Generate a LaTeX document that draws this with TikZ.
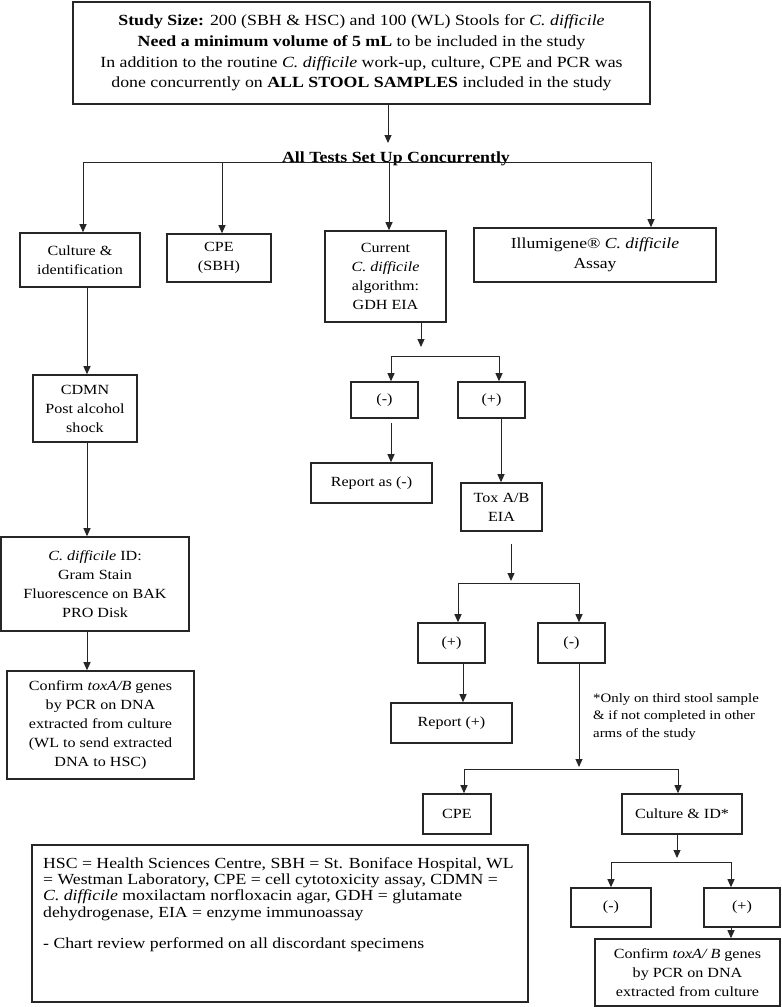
\documentclass[tikz,border=0pt]{standalone}
\usepackage{fontspec}
\setmainfont{Liberation Serif}[FakeStretch=1.15]
\usetikzlibrary{arrows.meta}
\begin{document}
\begin{tikzpicture}[x=1pt,y=-1pt,
  box/.style={draw=black!85, line width=1.6pt, inner sep=0pt, align=center, font=\fontsize{14}{19}\selectfont},
  conn/.style={draw=black!85, line width=1pt},
  arr/.style={conn, -{Triangle[length=8pt,width=7pt]}},
  notetext/.style={anchor=north west, inner sep=0pt, align=left, font=\fontsize{12.9}{17.5}\selectfont},
  legendtext/.style={anchor=north west, inner sep=0pt, align=left, font=\fontsize{15.4}{16.2}\selectfont},
]
\useasboundingbox (0,0) rectangle (782,1007);

% ---------- nodes ----------
\node[box, font=\fontsize{15.5}{20.7}\selectfont, minimum width=577pt, minimum height=102pt] (top) at (361.5,53)
  {\textbf{Study Size:} 200 (SBH \& HSC) and 100 (WL) Stools for \textit{C. difficile}\\
   \textbf{Need a minimum volume of 5 mL} to be included in the study\\
   In addition to the routine \textit{C. difficile} work-up, culture, CPE and PCR was\\
   done concurrently on \textbf{ALL STOOL SAMPLES} included in the study};
\node[font=\fontsize{15.5}{18}\selectfont\bfseries, inner sep=0pt, anchor=base] (tests) at (396,162) {All Tests Set Up Concurrently};

\node[box, minimum width=120pt, minimum height=54pt] (culture) at (80,260) {Culture \&\\identification};
\node[box, minimum width=104pt, minimum height=48pt] (cpesbh) at (219,258) {CPE\\(SBH)};
\node[box, minimum width=121pt, minimum height=91pt] (current) at (385.5,276.5) {Current\\\textit{C. difficile}\\algorithm:\\GDH EIA};
\node[box, font=\fontsize{15.3}{20}\selectfont, minimum width=242pt, minimum height=54pt] (illum) at (595,255) {Illumigene® \textit{C. difficile}\\Assay};

\node[box, minimum width=104pt, minimum height=67pt] (cdmn) at (85,408.5) {CDMN\\Post alcohol\\shock};
\node[box, minimum width=188pt, minimum height=94pt] (cdid) at (95,584) {\textit{C. difficile} ID:\\Gram Stain\\Fluorescence on BAK\\PRO Disk};
\node[box, minimum width=187pt, minimum height=108pt] (confl) at (100.5,725) {Confirm \textit{toxA/B} genes\\by PCR on DNA\\extracted from culture\\(WL to send extracted\\DNA to HSC)};

\node[box, minimum width=67pt, minimum height=36pt] (gneg) at (384.5,400) {(-)};
\node[box, minimum width=67pt, minimum height=36pt] (gpos) at (491.5,400) {(+)};
\node[box, minimum width=121pt, minimum height=40pt] (repneg) at (371.5,483) {Report as (-)};
\node[box, minimum width=81pt, minimum height=48pt] (tox) at (501.5,507) {Tox A/B\\EIA};
\node[box, minimum width=67pt, minimum height=40pt] (tpos) at (451.5,643) {(+)};
\node[box, minimum width=67pt, minimum height=40pt] (tneg) at (571.5,643) {(-)};
\node[box, minimum width=121pt, minimum height=40pt] (reppos) at (451.5,723) {Report (+)};
\node[notetext] (note) at (593,693) {*Only on third stool sample\\\& if not completed in other\\arms of the study};

\node[box, minimum width=68pt, minimum height=40pt] (cpe2) at (457,814) {CPE};
\node[box, minimum width=120pt, minimum height=40pt] (cultid) at (682,814) {Culture \& ID*};
\node[box, minimum width=80pt, minimum height=39pt] (neg3) at (611,907.5) {(-)};
\node[box, minimum width=76pt, minimum height=39pt] (pos3) at (742,907.5) {(+)};
\node[box, minimum width=185pt, minimum height=67pt] (confr) at (687.5,972.5) {Confirm \textit{toxA/ B} genes\\by PCR on DNA\\extracted from culture};

\node[box, minimum width=496pt, minimum height=157pt] (legend) at (280,923.5) {};
\node[legendtext] (legtext) at (43,857.5) {HSC = Health Sciences Centre, SBH = St. Boniface Hospital, WL\\
  = Westman Laboratory, CPE = cell cytotoxicity assay, CDMN =\\
  \textit{C. difficile} moxilactam norfloxacin agar, GDH = glutamate\\
  dehydrogenase, EIA = enzyme immunoassay\\[15pt]
  - Chart review performed on all discordant specimens};

% ---------- connectors ----------
\coordinate (a0) at (388,143);
\draw[arr] (top.south -| a0) -- (a0);
\coordinate (b1l) at (83,162);
\coordinate (b1b) at (222,162);
\coordinate (b1c) at (389,162);
\coordinate (b1r) at (651,162);
\draw[conn] (b1l) -- (b1r);
\draw[arr] (b1l) -- (culture.north -| b1l);
\draw[arr] (b1b) -- (cpesbh.north -| b1b);
\draw[arr] (b1c) -- (current.north -| b1c);
\draw[arr] (b1r) -- (illum.north -| b1r);

\coordinate (c1) at (87,0);
\draw[arr] (culture.south -| c1) -- (cdmn.north -| c1);
\draw[arr] (cdmn.south -| c1) -- (cdid.north -| c1);
\draw[arr] (cdid.south -| c1) -- (confl.north -| c1);

\coordinate (g0) at (421,347);
\draw[arr] (current.south -| g0) -- (g0);
\coordinate (g1l) at (391,356);
\coordinate (g1r) at (499,356);
\draw[conn] (g1l) -- (g1r);
\draw[arr] (g1l) -- (gneg.north -| g1l);
\draw[arr] (g1r) -- (gpos.north -| g1r);
\path (gneg.south -| g1l) ++(0,4) coordinate (g2);
\draw[arr] (g2) -- (repneg.north -| g2);
\coordinate (t0) at (501,0);
\draw[arr] (gpos.south -| t0) -- (tox.north -| t0);

\coordinate (t1b) at (511,581);
\path (tox.south -| t1b) ++(0,12) coordinate (t1a);
\draw[arr] (t1a) -- (t1b);
\coordinate (t2l) at (458,583);
\coordinate (t2r) at (579,583);
\draw[conn] (t2l) -- (t2r);
\draw[arr] (t2l) -- (tpos.north -| t2l);
\draw[arr] (t2r) -- (tneg.north -| t2r);
\coordinate (rp) at (463,0);
\draw[arr] (tpos.south -| rp) -- (reppos.north -| rp);

\coordinate (n0) at (579,767);
\draw[arr] (tneg.south -| n0) -- (n0);
\coordinate (n1l) at (464,769);
\coordinate (n1r) at (678,769);
\draw[conn] (n1l) -- (n1r);
\draw[arr] (n1l) -- (cpe2.north -| n1l);
\draw[arr] (n1r) -- (cultid.north -| n1r);

\coordinate (m0) at (677,858);
\draw[arr] (cultid.south -| m0) -- (m0);
\coordinate (m1l) at (611,862);
\coordinate (m1r) at (731,862);
\draw[conn] (m1l) -- (m1r);
\draw[arr] (m1l) -- (neg3.north -| m1l);
\draw[arr] (m1r) -- (pos3.north -| m1r);
\draw[arr] (pos3.south -| m1r) -- (confr.north -| m1r);
\end{tikzpicture}
\end{document}
